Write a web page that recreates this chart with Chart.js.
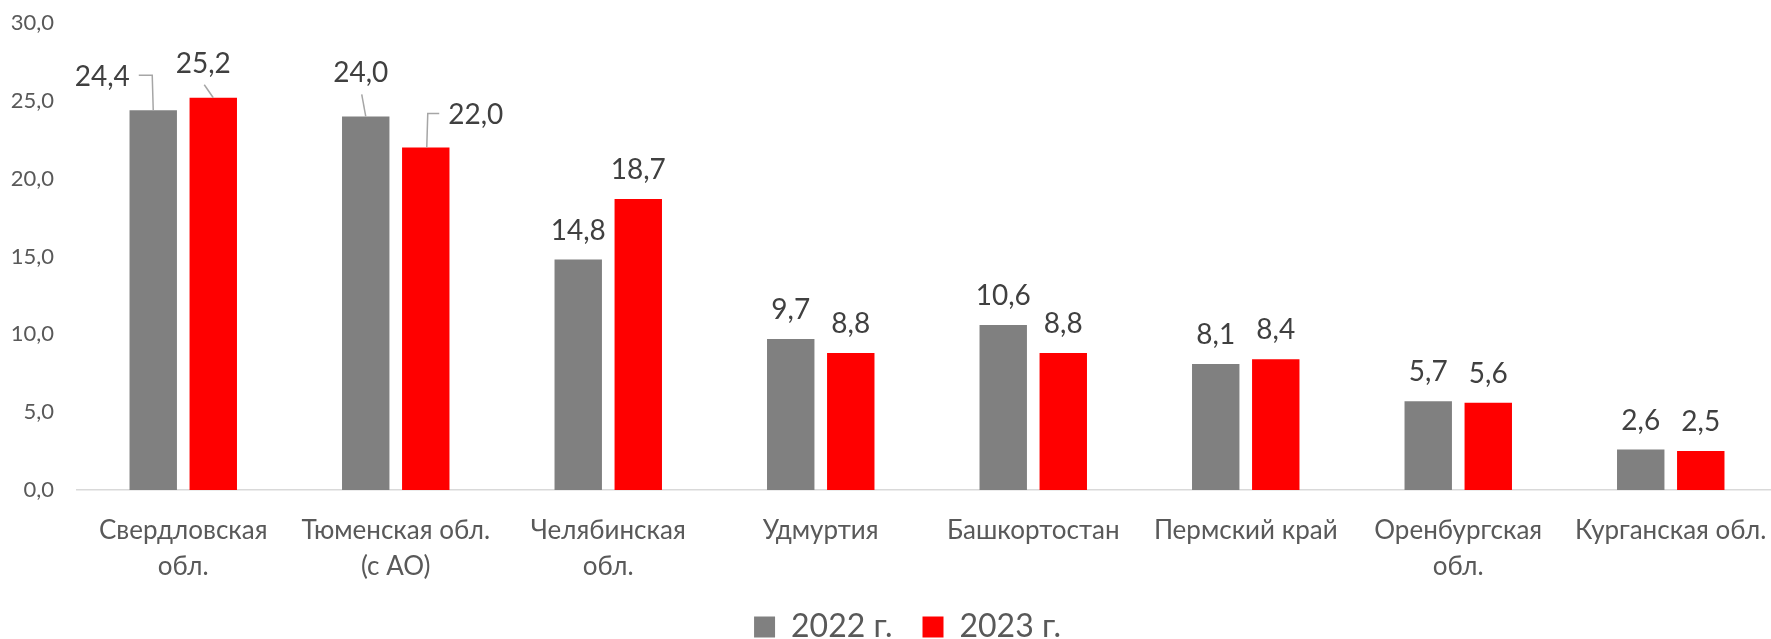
<!DOCTYPE html>
<html lang="ru">
<head>
<meta charset="utf-8">
<title>Регионы</title>
<script src="https://cdn.jsdelivr.net/npm/chart.js@4"></script>
<style>
  html, body { margin: 0; background: #ffffff; overflow: hidden; }
  /* холст чуть больше окна: правый край оси и низ легенды выходят за рамку, как в оригинале */
  #wrap { width: 1800px; height: 660px; position: relative; }
</style>
</head>
<body>
<div id="wrap"><canvas id="regionChart"></canvas></div>
<script>
// Категории (регионы) — многострочные подписи как в оригинале
const categories = [
    ['Свердловская', 'обл.'],
    ['Тюменская обл.', '(с АО)'],
    ['Челябинская', 'обл.'],
    'Удмуртия',
    'Башкортостан',
    'Пермский край',
    ['Оренбургская', 'обл.'],
    'Курганская обл.'
];

// Значения по годам
const values2022 = [24.4, 24.0, 14.8, 9.7, 10.6, 8.1, 5.7, 2.6];
const values2023 = [25.2, 22.0, 18.7, 8.8, 8.8, 8.4, 5.6, 2.5];
const seriesNames = ['2022 г.', '2023 г.'];

// Ось Y
const yMin = 0;
const yMax = 30;
const yStep = 5;

const FONT = 'Lato, "Open Sans", sans-serif';

// формат с запятой: 24,4
const fmt = (v) => v.toFixed(1).replace('.', ',');

// подписи, вынесенные в сторону с линией-выноской (смещение от верхушки столбика)
const callouts = {
    '0-0': { dx: -51, dy: -33, side: 'right' },
    '1-0': { dx: -10, dy: -34, side: 'below' },
    '0-1': { dx: -5, dy: -43, side: 'below' },
    '1-1': { dx: 50, dy: -33, side: 'left' }
};

// плагин подписей данных
const dataLabels = {
    id: 'dataLabels',
    afterDatasetsDraw(chart) {
        const ctx = chart.ctx;
        ctx.save();
        ctx.font = '28px ' + FONT;
        ctx.textAlign = 'center';
        ctx.textBaseline = 'middle';
        chart.data.datasets.forEach((ds, di) => {
            const meta = chart.getDatasetMeta(di);
            meta.data.forEach((bar, i) => {
                const text = fmt(ds.data[i]);
                const c = callouts[di + '-' + i];
                let x = bar.x;
                let y = bar.y - 29;
                if (c) {
                    x = bar.x + c.dx;
                    y = bar.y + c.dy;
                    const w = ctx.measureText(text).width;
                    ctx.strokeStyle = '#a6a6a6';
                    ctx.lineWidth = 1.5;
                    ctx.beginPath();
                    if (c.side === 'right') {
                        ctx.moveTo(x + w / 2 + 9, y - 2);
                        ctx.lineTo(bar.x - 1, y - 2);
                        ctx.lineTo(bar.x, bar.y);
                    } else if (c.side === 'left') {
                        ctx.moveTo(x - w / 2 - 9, y - 1);
                        ctx.lineTo(bar.x + 2, y - 1);
                        ctx.lineTo(bar.x + 1, bar.y);
                    } else {
                        ctx.moveTo(x + 1, y + 21);
                        ctx.lineTo(bar.x, bar.y);
                    }
                    ctx.stroke();
                }
                ctx.fillStyle = '#404040';
                ctx.fillText(text, x, y);
            });
        });
        ctx.restore();
    }
};

// легенда в оригинале чуть правее центра холста
const legendShift = {
    id: 'legendShift',
    afterLayout(chart) {
        chart.legend.left += 19;
        chart.legend.right += 19;
    }
};

const ctxRegions = document.getElementById('regionChart').getContext('2d');

new Chart(ctxRegions, {
    type: 'bar',
    data: {
        labels: categories,
        datasets: [
            {
                label: seriesNames[0],
                data: values2022,
                backgroundColor: '#808080',
                categoryPercentage: 0.565,
                barPercentage: 0.79
            },
            {
                label: seriesNames[1],
                data: values2023,
                backgroundColor: '#ff0000',
                categoryPercentage: 0.565,
                barPercentage: 0.79
            }
        ]
    },
    options: {
        responsive: true,
        maintainAspectRatio: false,
        animation: false,
        layout: { padding: { top: 23, left: 0, right: 23, bottom: 9 } },
        plugins: {
            legend: {
                position: 'bottom',
                maxHeight: 70,
                labels: {
                    color: '#595959',
                    boxWidth: 21,
                    boxHeight: 21,
                    padding: 30,
                    font: { size: 32, family: FONT }
                }
            },
            tooltip: { enabled: false }
        },
        scales: {
            x: {
                grid: { display: false, drawTicks: false },
                border: { color: '#d9d9d9', width: 1.5 },
                afterFit(scale) {
                    scale.height = 91;
                    scale.paddingLeft = 0;
                    scale.paddingRight = 0;
                },
                ticks: {
                    color: '#595959',
                    padding: 23,
                    maxRotation: 0,
                    autoSkip: false,
                    font: { size: 26, family: FONT, lineHeight: 1.38 }
                }
            },
            y: {
                min: yMin,
                max: yMax,
                grid: { display: false, drawTicks: false },
                border: { display: false },
                afterFit(scale) {
                    scale.width = 77;
                    scale.paddingTop = 0;
                    scale.paddingBottom = 0;
                },
                ticks: {
                    stepSize: yStep,
                    color: '#595959',
                    padding: 23,
                    font: { size: 22, family: FONT },
                    callback: (v) => fmt(v)
                }
            }
        }
    },
    plugins: [dataLabels, legendShift]
});
</script>
</body>
</html>
